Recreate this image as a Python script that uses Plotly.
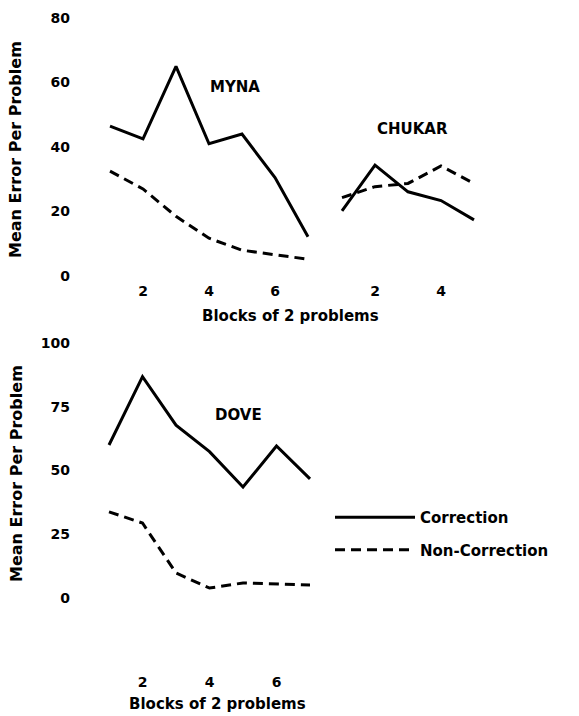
import plotly.graph_objects as go

W, H = 579, 716

# ---- data ----
myna_blocks = [1, 2, 3, 4, 5, 6, 7]
myna_correction = [46.5, 42.5, 65.0, 41.0, 44.0, 30.5, 12.2]
myna_noncorrection = [32.5, 27.0, 18.5, 11.7, 8.0, 6.5, 5.2]

chukar_blocks = [1, 2, 3, 4, 5]
chukar_correction = [20.2, 34.4, 26.1, 23.4, 17.4]
chukar_noncorrection = [24.3, 27.7, 28.7, 34.1, 28.7]

dove_blocks = [1, 2, 3, 4, 5, 6, 7]
dove_correction = [60.0, 86.8, 67.8, 57.4, 43.5, 59.6, 46.7]
dove_noncorrection = [33.8, 29.4, 9.8, 3.9, 5.9, 5.5, 5.1]

top_yticks = [0, 20, 40, 60, 80]
bottom_yticks = [0, 25, 50, 75, 100]
myna_xticks = [2, 4, 6]
chukar_xticks = [2, 4]
dove_xticks = [2, 4, 6]

series_names = ["Correction", "Non-Correction"]
panel_names = ["MYNA", "CHUKAR", "DOVE"]
x_title = "Blocks of 2 problems"
y_title = "Mean Error Per Problem"

# ---- style ----
FONT = "DejaVu Sans"
BLACK = "#000000"
SOLID = dict(color=BLACK, width=3)
DASHED = dict(color=BLACK, width=3, dash="10px,6px")


def px(xp):
    return xp / W


def py(yp):
    return 1 - yp / H


fig = go.Figure()

panels = [
    ("x", "y", myna_blocks, myna_correction, myna_noncorrection, True),
    ("x2", "y2", chukar_blocks, chukar_correction, chukar_noncorrection, False),
    ("x3", "y3", dove_blocks, dove_correction, dove_noncorrection, False),
]
for xa, ya, xs, corr, noncorr, show in panels:
    fig.add_trace(go.Scatter(x=xs, y=corr, mode="lines", line=SOLID,
                             name=series_names[0], legendgroup="c",
                             showlegend=show, xaxis=xa, yaxis=ya))
    fig.add_trace(go.Scatter(x=xs, y=noncorr, mode="lines", line=DASHED,
                             name=series_names[1], legendgroup="n",
                             showlegend=show, xaxis=xa, yaxis=ya))

tickfont = dict(family=FONT, size=14, color=BLACK, weight="bold")
common_x = dict(showgrid=False, zeroline=False, showline=False, ticks="",
                tickfont=tickfont, anchor="free", fixedrange=True)
common_y = dict(showgrid=False, zeroline=False, showline=False, ticks="",
                tickfont=tickfont, fixedrange=True)

# top panels: y=0 at 276px, 3.225 px per unit
top_lo, top_hi = -5, 85
top_dom = [py(276 + 5 * 3.225), py(276 - 85 * 3.225)]
# bottom panel: y=0 at 598px, 2.55 px per unit
bot_lo, bot_hi = -5, 105
bot_dom = [py(598 + 5 * 2.55), py(598 - 105 * 2.55)]

fig.update_layout(
    width=W, height=H,
    margin=dict(l=0, r=0, t=0, b=0),
    paper_bgcolor="white", plot_bgcolor="white",
    font=dict(family=FONT, color=BLACK),
    xaxis=dict(common_x, range=[0.5, 7.5], domain=[px(110 - 16.5), px(308 + 16.5)],
               tickvals=myna_xticks, position=py(281)),
    xaxis2=dict(common_x, range=[0.5, 5.5], domain=[px(342 - 16.5), px(474 + 16.5)],
                tickvals=chukar_xticks, position=py(281)),
    xaxis3=dict(common_x, range=[0.5, 7.5], domain=[px(109 - 16.75), px(310 + 16.75)],
                tickvals=dove_xticks, position=py(672)),
    yaxis=dict(common_y, range=[top_lo, top_hi], domain=top_dom, tickvals=top_yticks,
               anchor="free", position=px(70)),
    yaxis2=dict(common_y, range=[top_lo, top_hi], domain=top_dom, anchor="x2",
                showticklabels=False),
    yaxis3=dict(common_y, range=[bot_lo, bot_hi], domain=bot_dom, tickvals=bottom_yticks,
                anchor="free", position=px(70)),
    showlegend=True,
    legend=dict(x=px(330), y=py(501), xanchor="left", yanchor="top",
                font=dict(family=FONT, size=15, color=BLACK, weight="bold"),
                bgcolor="rgba(0,0,0,0)", traceorder="grouped", tracegroupgap=10,
                itemwidth=80),
)

lab = dict(family=FONT, size=15, color=BLACK, weight="bold")
ylab = dict(family=FONT, size=16, color=BLACK, weight="bold")
ann = [
    dict(text=panel_names[0], x=4.79, y=58.6, xref="x", yref="y", showarrow=False, font=lab),
    dict(text=panel_names[1], x=3.15, y=45.6, xref="x2", yref="y2", showarrow=False, font=lab),
    dict(text=panel_names[2], x=4.88, y=71.8, xref="x3", yref="y3", showarrow=False, font=lab),
    dict(text=x_title, x=px(290), y=py(316), xref="paper", yref="paper", showarrow=False,
         xanchor="center", yanchor="middle", font=lab),
    dict(text=x_title, x=px(217), y=py(704), xref="paper", yref="paper", showarrow=False,
         xanchor="center", yanchor="middle", font=lab),
    dict(text=y_title, x=px(16), y=py(150), xref="paper", yref="paper", showarrow=False,
         xanchor="center", yanchor="middle", textangle=-90, font=ylab),
    dict(text=y_title, x=px(16), y=py(474), xref="paper", yref="paper", showarrow=False,
         xanchor="center", yanchor="middle", textangle=-90, font=ylab),
]
fig.update_layout(annotations=ann)

fig.write_html("out.html", config={"displayModeBar": False},
               post_script="document.body.style.margin='0px';document.body.style.padding='0px';")
